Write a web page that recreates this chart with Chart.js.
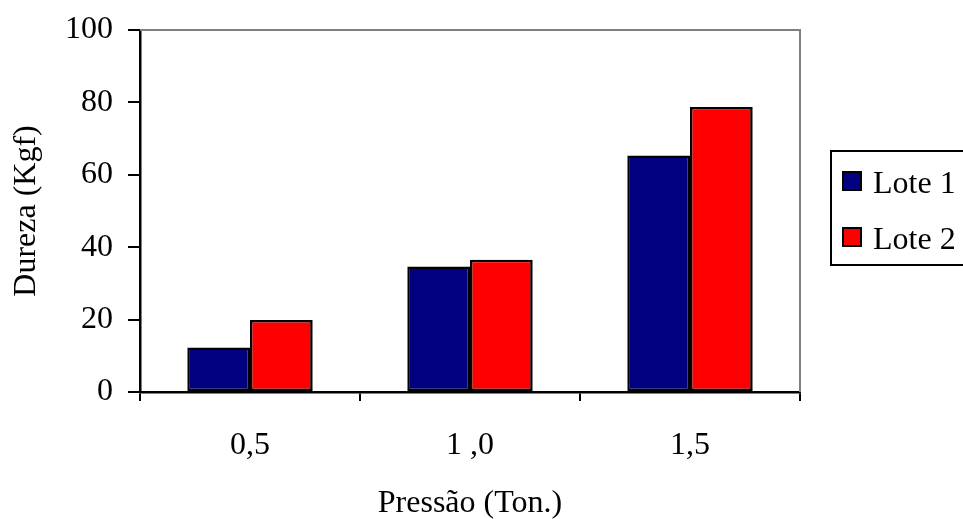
<!DOCTYPE html>
<html lang="pt">
<head>
  <meta charset="UTF-8" />
  <title>Dureza x Pressão</title>
  <script src="https://cdn.jsdelivr.net/npm/chart.js"></script>
  <style>
    body { margin: 0; background: #ffffff; }
    canvas { display: block; }
  </style>
</head>
<body>
  <canvas id="chart" width="963" height="519"></canvas>

  <script>
    // data
    const pressoes = ['0,5', '1 ,0', '1,5'];
    const lote1 = [12.3, 34.7, 65.3];
    const lote2 = [19.9, 36.5, 78.7];
    const seriesNames = ['Lote 1', 'Lote 2'];
    const yTicks = [0, 20, 40, 60, 80, 100];

    const FONT = 'Liberation Serif, Times New Roman, serif';
    const FSIZE = 32;

    // grey top/right frame + legend box on the right
    const framePlugin = {
      id: 'frame',
      afterDraw(chart) {
        const ctx = chart.ctx;
        const a = chart.chartArea;
        ctx.save();
        ctx.strokeStyle = '#808080';
        ctx.lineWidth = 2;
        ctx.beginPath();
        ctx.moveTo(a.left, a.top);
        ctx.lineTo(a.right, a.top);
        ctx.lineTo(a.right, a.bottom);
        ctx.stroke();

        // legend
        ctx.strokeStyle = '#000000';
        ctx.lineWidth = 2;
        ctx.strokeRect(831, 151, 200, 114);
        ctx.font = FSIZE + 'px ' + FONT;
        ctx.textBaseline = 'alphabetic';
        chart.data.datasets.forEach((ds, i) => {
          const y = 172 + i * 56;
          ctx.fillStyle = ds.backgroundColor;
          ctx.fillRect(843, y, 18, 18);
          ctx.strokeStyle = '#000000';
          ctx.lineWidth = 2;
          ctx.strokeRect(843, y, 18, 18);
          ctx.fillStyle = '#000000';
          ctx.fillText(ds.label, 873, y + 21);
        });
        ctx.restore();
      }
    };

    new Chart(document.getElementById('chart'), {
      type: 'bar',
      data: {
        labels: pressoes,
        datasets: [
          {
            label: seriesNames[0],
            data: lote1,
            backgroundColor: '#000080',
            borderColor: '#000000',
            borderWidth: 2.5,
            borderSkipped: false
          },
          {
            label: seriesNames[1],
            data: lote2,
            backgroundColor: '#ff0000',
            borderColor: '#000000',
            borderWidth: 2.5,
            borderSkipped: false
          }
        ]
      },
      options: {
        responsive: false,
        animation: false,
        layout: { padding: { top: 30, right: 163, left: 0, bottom: 0 } },
        datasets: {
          bar: { categoryPercentage: 0.57, barPercentage: 1.0 }
        },
        plugins: {
          legend: { display: false },
          tooltip: { enabled: false }
        },
        scales: {
          x: {
            afterFit(scale) {
              scale.height = 127;
              scale.paddingLeft = 0;
              scale.paddingRight = 0;
            },
            grid: {
              offset: true,
              drawOnChartArea: false,
              color: '#000000',
              lineWidth: 2,
              tickLength: 9
            },
            border: { color: '#000000', width: 2.5 },
            ticks: {
              color: '#000000',
              padding: 25,
              font: { family: FONT, size: FSIZE }
            },
            title: {
              display: true,
              text: 'Pressão (Ton.)',
              color: '#000000',
              padding: { top: 0, bottom: -4 },
              font: { family: FONT, size: FSIZE }
            }
          },
          y: {
            min: 0,
            max: 100,
            afterFit(scale) {
              scale.width = 140;
              scale.paddingTop = 0;
              scale.paddingBottom = 0;
            },
            afterBuildTicks(scale) {
              scale.ticks = yTicks.map(v => ({ value: v }));
            },
            grid: {
              drawOnChartArea: false,
              color: '#000000',
              lineWidth: 2,
              tickLength: 12
            },
            border: { color: '#000000', width: 2.5 },
            ticks: {
              color: '#000000',
              padding: 15,
              font: { family: FONT, size: FSIZE }
            },
            title: {
              display: true,
              text: 'Dureza (Kgf)',
              color: '#000000',
              padding: { top: 7, bottom: 0 },
              font: { family: FONT, size: FSIZE }
            }
          }
        }
      },
      plugins: [framePlugin]
    });
  </script>
</body>
</html>
